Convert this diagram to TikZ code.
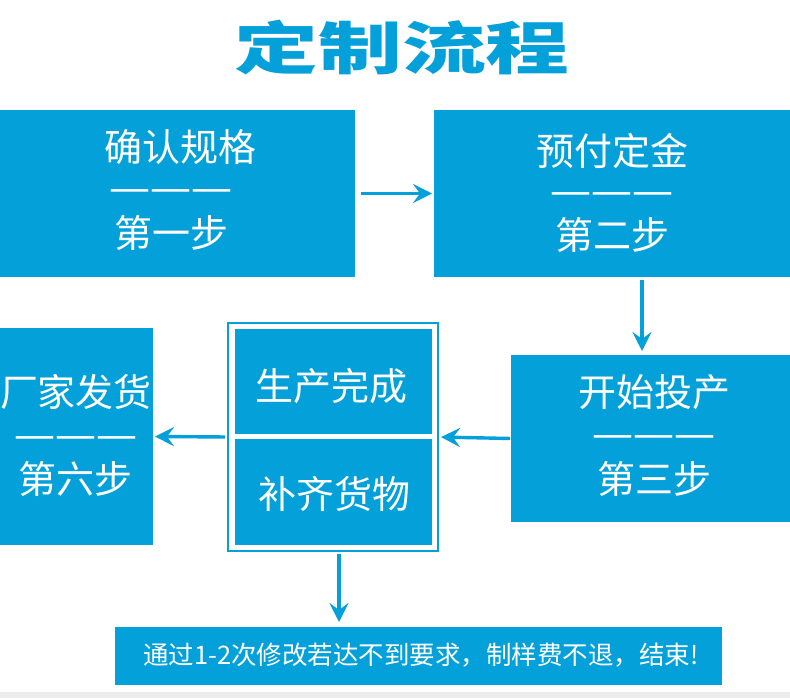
\documentclass[tikz,border=0pt]{standalone}
\usepackage{fontspec}
\usepackage{graphicx}
\newfontfamily\cjk{Noto Sans CJK SC}
\newfontfamily\dashf{Liberation Serif}
\usetikzlibrary{arrows.meta}
\definecolor{blu}{HTML}{03A0DA}
\definecolor{strip}{HTML}{EDEDED}
\newcommand{\tridash}{{\dashf\bfseries —\kern4pt—\kern4pt—}}
\begin{document}
\begin{tikzpicture}[x=1pt,y=-1pt,
  box/.style={fill=blu,draw=none,inner sep=0,outer sep=0},
  lbl/.style={text=white,font=\fontsize{38}{38}\cjk,inner sep=0},
  dsh/.style={text=white,font=\fontsize{37}{37}\dashf,inner sep=0},
  frame/.style={draw=blu,line width=2.2pt,inner sep=0,outer sep=0},
  arr/.style={draw=blu,line width=3.4pt,-{Stealth[length=19pt,width=19pt,inset=7pt]}}]
\fill[white] (0,0) rectangle (790,698);
\fill[strip] (0,692) rectangle (790,698);
\useasboundingbox (0,0) rectangle (790,698);

% title
\node[text=blu,inner sep=0] (title) at (402,47) {\scalebox{1.47}[1]{\fontsize{57}{57}\cjk\bfseries 定制流程}};

% boxes
\node[box,minimum width=355,minimum height=167] (b1) at (177.5,193.5) {};
\node[box,minimum width=356,minimum height=167] (b2) at (612,193.5) {};
\node[box,minimum width=279,minimum height=167] (b3) at (650.5,438.5) {};
\node[box,minimum width=153,minimum height=217] (b6) at (76.5,436.5) {};
\node[frame,minimum width=210,minimum height=228] (mid) at (333,437) {};
\node[box,minimum width=197,minimum height=105] (m1) at (333.5,381.5) {};
\node[box,minimum width=197,minimum height=106] (m2) at (333.5,492) {};
\node[box,minimum width=607,minimum height=58] (bar) at (418.5,656) {};

% labels
\node[lbl] (t1a) at (180,147) {确认规格};
\node[dsh] (t1b) at (171,195) {\tridash};
\node[lbl] (t1c) at (171,233) {第一步};
\node[lbl] (t2a) at (612,151) {预付定金};
\node[dsh] (t2b) at (612,198) {\tridash};
\node[lbl] (t2c) at (612,235) {第二步};
\node[lbl] (t3a) at (654,392) {开始投产};
\node[dsh] (t3b) at (654,441) {\tridash};
\node[lbl] (t3c) at (654,479) {第三步};
\node[lbl] (t6a) at (76,392) {厂家发货};
\node[dsh] (t6b) at (76,442) {\tridash};
\node[lbl] (t6c) at (76,479) {第六步};
\node[lbl] (tm1) at (331,386) {生产完成};
\node[lbl] (tm2) at (334,494) {补齐货物};
\node[text=white,font=\fontsize{25.5}{25.5}\cjk,inner sep=0] (tbar) at (421,655) {通过1-2次修改若达不到要求，制样费不退，结束!};

% arrows
\draw[arr,shorten <=6pt,shorten >=2pt] (b1) -- (b2);
\coordinate (a2s) at ([xshift=30pt]b2.south);
\draw[arr,shorten <=3pt,shorten >=4pt] (a2s) -- (a2s |- b3.north);
\draw[arr,shorten <=1pt,shorten >=3pt] (b3.west) -- (mid.east);
\draw[arr,shorten <=3pt,shorten >=2pt] (mid.west) -- (b6.east);
\coordinate (a5s) at ([xshift=6pt]mid.south);
\draw[arr,shorten <=3pt,shorten >=5pt] (a5s) -- (a5s |- bar.north);
\end{tikzpicture}
\end{document}
